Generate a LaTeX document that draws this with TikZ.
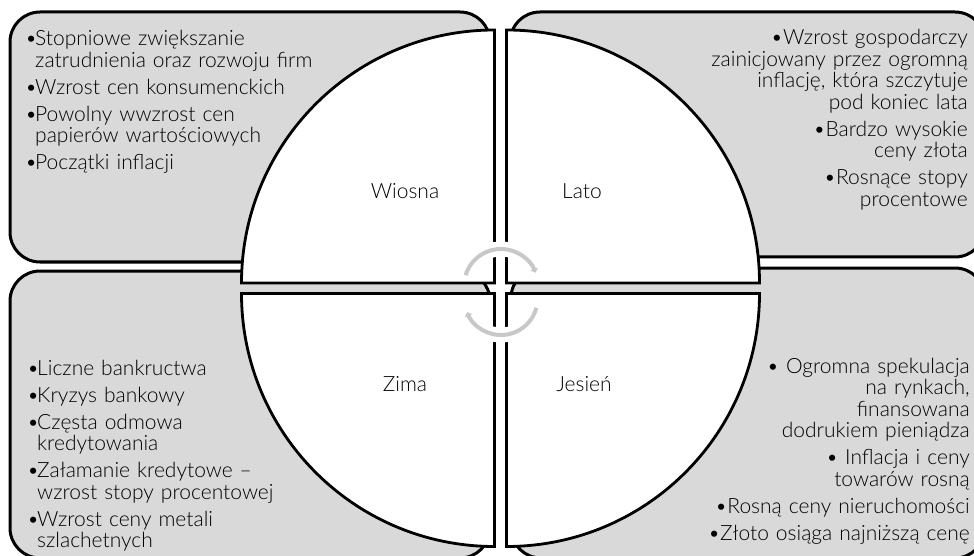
\documentclass[tikz,border=0pt]{standalone}
\usepackage{fontspec}
\setmainfont{Lato Light}
\usetikzlibrary{arrows.meta}
\definecolor{boxgray}{HTML}{D9D9D9}
\definecolor{arcgray}{HTML}{C8C8C8}
\newcommand\bul{\makebox[10pt][l]{•}}
\newcommand\ind{\hspace*{10pt}}
\begin{document}
\begin{tikzpicture}[x=1pt,y=1pt,
  box/.style={fill=boxgray,draw=black,line width=3pt,rounded corners=30pt},
  quad/.style={fill=white,draw=black,line width=2.8pt,line join=miter},
  txt/.style={font=\fontsize{21}{21.5}\selectfont,inner sep=0pt,text width=#1},
  lbl/.style={font=\fontsize{21}{22}\selectfont,inner sep=0pt,anchor=base},
  halo/.style={white,line width=15pt},
  cyc/.style={arcgray,line width=4pt,-{Triangle[length=4pt,width=8pt]}}]
\useasboundingbox (0,0) rectangle (974,555);
\clip (0,0) rectangle (974,555);
% boxes
\path[box] (10,293) rectangle (490,543);
\path[box] (510,298) rectangle (985,543);
\path[box] (10,-3) rectangle (490,284);
\path[box] (511,-3) rectangle (985,287);
% quadrants
\draw[quad] (494.5,272) -- ++(-253,0) arc[start angle=180,end angle=90,radius=253] -- cycle;
\draw[quad] (506.5,272) -- ++(253,0) arc[start angle=0,end angle=90,radius=253] -- cycle;
\draw[quad] (494.5,261.5) -- ++(-253,0) arc[start angle=180,end angle=270,radius=253] -- cycle;
\draw[quad] (506.5,261.5) -- ++(253,0) arc[start angle=0,end angle=-90,radius=253] -- cycle;
% cycle arrows
\coordinate (c1) at (501,269);
\coordinate (c2) at (501,256.6);
\draw[halo] ([shift={(163:37)}]c1) arc[start angle=163,end angle=21,radius=37];
\draw[halo] ([shift={(345:36.6)}]c2) arc[start angle=345,end angle=202,radius=36.6];
\draw[cyc] ([shift={(163:37)}]c1) arc[start angle=163,end angle=21,radius=37];
\draw[cyc] ([shift={(345:36.6)}]c2) arc[start angle=345,end angle=202,radius=36.6];
% labels
\node[lbl] (wiosna) at (405,356) {Wiosna};
\node[lbl] (lato) at (582,356) {Lato};
\node[lbl] (zima) at (405,164) {Zima};
\node[lbl] (jesien) at (584,164) {Jesień};
% texts
\node[txt=330pt,align=left,anchor=base west] (tl) at (25,509) {%
\bul Stopniowe zwiększanie\\
\ind zatrudnienia oraz rozwoju firm\\[5.5pt]
\bul Wzrost cen konsumenckich\\[5.5pt]
\bul Powolny wwzrost cen\\
\ind papierów wartościowych\\[5.5pt]
\bul Początki inflacji};
\node[txt=340pt,align=right,anchor=base east] (tr) at (968,510) {%
•Wzrost gospodarczy\\
zainicjowany przez ogromną\\
inflację, która szczytuje\\
pod koniec lata\\[5.5pt]
•Bardzo wysokie\\
ceny złota\\[5.5pt]
•Rosnące stopy\\
procentowe};
\node[txt=330pt,align=left,anchor=base west] (bl) at (27,180) {%
\bul Liczne bankructwa\\[5.5pt]
\bul Kryzys bankowy\\[5.5pt]
\bul Częsta odmowa\\
\ind kredytowania\\[5.5pt]
\bul Załamanie kredytowe –\\
\ind wzrost stopy procentowej\\[5.5pt]
\bul Wzrost ceny metali\\
\ind szlachetnych};
\node[txt=340pt,align=right,anchor=base east] (br) at (970,182) {%
• Ogromna spekulacja\\
na rynkach,\\
finansowana\\
dodrukiem pieniądza\\[5.5pt]
• Inflacja i ceny\\
towarów rosną\\[5.5pt]
•Rosną ceny nieruchomości\\[5.5pt]
•Złoto osiąga najniższą cenę};
\end{tikzpicture}
\end{document}
